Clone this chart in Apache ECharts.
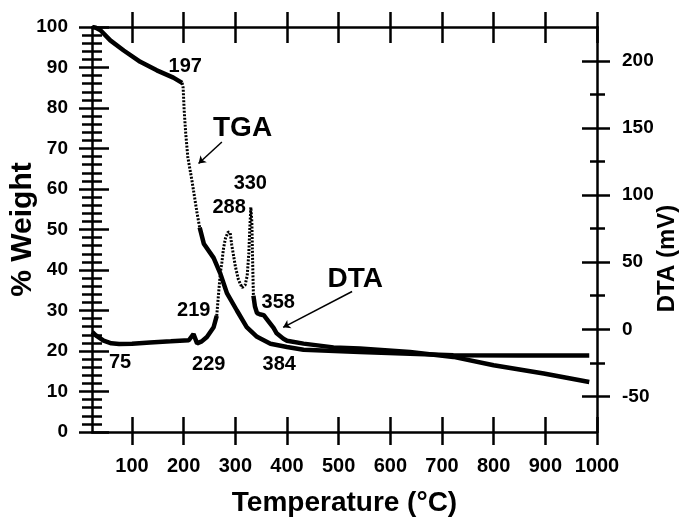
<!DOCTYPE html>
<html><head><meta charset="utf-8">
<script src="https://cdn.jsdelivr.net/npm/echarts@6/dist/echarts.min.js"></script>
<style>html,body{margin:0;padding:0;background:#fff}#c{width:684px;height:517px}</style>
</head><body><div id="c"></div>
<script>
// ---- data ----
const tgaTemp   = [23, 30, 39, 58, 84, 116, 148, 180, 197, 199, 201, 204, 208, 216, 219, 226, 231, 239, 258, 271, 284, 303, 322, 342, 368, 400, 432, 541, 638, 722, 850, 985];
const tgaWeight = [100, 99.8, 99.2, 96.7, 94.2, 91.4, 89.3, 87.5, 86.2, 85, 79.4, 73.7, 67.9, 62.1, 59.7, 54, 50.5, 46.5, 43, 39.1, 34.2, 30, 25.9, 23.5, 21.8, 21, 20.3, 19.75, 19.35, 18.95, 18.9, 18.9];
const dtaTemp = [23, 30, 45, 60, 75, 100, 135, 175, 210, 219, 226, 235, 245, 258, 264, 267, 271, 274, 277, 281, 286, 290, 293, 297, 300, 306, 313, 319, 323, 326, 328, 330, 332, 333, 334, 335, 338, 342, 349, 355, 362, 368, 374, 380, 393, 400, 432, 490, 541, 638, 722, 800, 897, 985];
const dtaMv   = [-2, -4.5, -8.5, -10.5, -11, -10.8, -9.8, -9, -8.2, -3.5, -10.5, -9, -5.7, 1.5, 10, 24, 42, 50, 60, 68, 72.5, 72, 63, 54, 47, 37, 31, 33, 40, 56, 75, 91, 80, 60, 42, 25, 17, 12, 11, 10.5, 7, 4, 1, -3, -7, -8.5, -10.7, -13.5, -14.4, -16.9, -20.6, -26.8, -33, -39.3];
// temperature ranges recorded as sparse marker chains
const tgaChainRange = [197, 231];
const dtaChainRange = [264, 335];
// tick labels
const tempTicks = [100, 200, 300, 400, 500, 600, 700, 800, 900, 1000];
const dtaTicks = [-50, 0, 50, 100, 150, 200];
const dtaMinorTicks = [-25, 25, 75, 125, 175];
// annotations (text, temperature, weight-axis value)
const annoText   = ['197', 'TGA', '330', '288', '219', '75', '229', '384', '358', 'DTA'];
const annoTemp   = [203, 314, 329, 288, 219.5, 77, 248.5, 385, 383, 532];
const annoWeight = [90.2, 75.0, 61.4, 55.4, 29.9, 17.1, 16.7, 16.6, 32.1, 37.7];
const arrowFrom = [[274, 71.6], [526, 34.7]];
const arrowTo   = [[228.8, 66.3], [392.6, 25.85]];

// ---- build ----
function split(xs, ys, range) {
  const thick = [], chain = [];
  xs.forEach((x, i) => {
    const p = [x, ys[i]];
    if (x > range[0] && x < range[1]) { thick.push([x, null]); chain.push(p); }
    else { thick.push(p); if (x === range[0] || x === range[1]) chain.push(p); }
  });
  return { thick, chain };
}
const tga = split(tgaTemp, tgaWeight, tgaChainRange);
const dta = split(dtaTemp, dtaMv, dtaChainRange);

const FONT = '"Liberation Sans", Arial, Helvetica, sans-serif';
const black = '#000';
const axLine = { show: true, onZero: false, lineStyle: { color: black, width: 2.5 } };
const noLine = { show: false, onZero: false };
const plain = (v) => String(v);
const lbl = (size, margin, extra) => Object.assign({ color: black, fontFamily: FONT, fontWeight: 'bold', fontSize: size, margin, formatter: plain }, extra || {});

const X_MIN = 22.6, X_MAX = 1000;
const R_MIN = -76.6, R_MAX = 225.4;

function xAx(pos, inside, len, showLine, showLabel, extra) {
  return Object.assign({
    type: 'value', position: pos, min: X_MIN, max: X_MAX,
    axisLine: showLine ? axLine : noLine,
    axisTick: { show: true, inside, length: len, customValues: tempTicks, lineStyle: { color: black, width: 2.5 } },
    axisLabel: showLabel ? lbl(20, 24, { customValues: tempTicks }) : { show: false },
    splitLine: { show: false }
  }, extra || {});
}
function yAx(pos, min, max, extra) {
  return Object.assign({
    type: 'value', position: pos, min, max,
    axisLine: noLine, axisLabel: { show: false }, splitLine: { show: false }
  }, extra);
}

const option = {
  animation: false,
  backgroundColor: '#fff',
  grid: { left: 92, right: 87, top: 27, bottom: 85, containLabel: false, outerBoundsMode: 'none' },
  xAxis: [
    xAx('bottom', false, 13, true, true, {
      name: 'Temperature (°C)', nameLocation: 'middle', nameGap: 57, nameMoveOverlap: false,
      nameTextStyle: { color: black, fontFamily: FONT, fontWeight: 'bold', fontSize: 28 }
    }),
    xAx('bottom', true, 15, false, false),
    xAx('top', false, 15, true, false),
    xAx('top', true, 16, false, false)
  ],
  yAxis: [
    yAx('left', 0, 100, {
      interval: 10,
      axisLine: axLine,
      axisTick: { show: true, inside: false, length: 13, lineStyle: { color: black, width: 2.5 } },
      minorTick: { show: true, splitNumber: 5, length: 10, lineStyle: { color: black, width: 2.5 } },
      axisLabel: lbl(19, 24),
      name: '% Weight', nameLocation: 'middle', nameGap: 54, nameMoveOverlap: false,
      nameTextStyle: { color: black, fontFamily: FONT, fontWeight: 'bold', fontSize: 30 }
    }),
    yAx('right', R_MIN, R_MAX, {
      axisLine: axLine,
      axisTick: { show: true, inside: false, length: 13, customValues: dtaTicks, lineStyle: { color: black, width: 2.5 } },
      axisLabel: lbl(19, 25, { customValues: dtaTicks }),
      name: 'DTA (mV)', nameLocation: 'middle', nameGap: 58, nameMoveOverlap: false,
      nameTextStyle: { color: black, fontFamily: FONT, fontWeight: 'bold', fontSize: 24, padding: [0, 58, 0, 0] }
    }),
    yAx('left', 0, 100, {
      interval: 10,
      axisTick: { show: true, inside: true, length: 17, lineStyle: { color: black, width: 2.5 } },
      minorTick: { show: true, splitNumber: 5, length: 10, lineStyle: { color: black, width: 2.5 } }
    }),
    yAx('right', R_MIN, R_MAX, {
      axisTick: { show: true, inside: true, length: 15, customValues: dtaTicks, lineStyle: { color: black, width: 2.5 } }
    }),
    yAx('right', R_MIN, R_MAX, {
      axisTick: { show: true, inside: false, length: 8, customValues: dtaMinorTicks, lineStyle: { color: black, width: 2.5 } }
    }),
    yAx('right', R_MIN, R_MAX, {
      axisTick: { show: true, inside: true, length: 7, customValues: dtaMinorTicks, lineStyle: { color: black, width: 2.5 } }
    })
  ],
  series: [
    {
      name: 'TGA', type: 'line', xAxisIndex: 0, yAxisIndex: 0, data: tga.thick,
      showSymbol: false, symbol: 'none', connectNulls: false,
      lineStyle: { color: black, width: 4.5 }, z: 5,
      markPoint: {
        symbol: 'rect', symbolSize: 1, silent: true,
        itemStyle: { color: 'rgba(0,0,0,0)' },
        data: annoText.map((t, i) => ({
          coord: [annoTemp[i], annoWeight[i]],
          label: {
            show: true, position: 'inside', formatter: t, color: black,
            fontFamily: FONT, fontWeight: 'bold', fontSize: (t === 'TGA' || t === 'DTA') ? 28 : 20
          }
        }))
      },
      markLine: {
        silent: true, symbol: ['none', 'arrow'], symbolSize: 7,
        label: { show: false },
        lineStyle: { color: black, width: 1.5, type: 'solid' },
        data: arrowFrom.map((f, i) => [{ coord: f }, { coord: arrowTo[i] }])
      }
    },
    {
      name: 'TGA chain', type: 'line', xAxisIndex: 0, yAxisIndex: 0, data: tga.chain,
      showSymbol: false, symbol: 'none',
      lineStyle: { color: black, width: 3, type: [2, 1.5] }, z: 4
    },
    {
      name: 'DTA', type: 'line', xAxisIndex: 0, yAxisIndex: 1, data: dta.thick,
      showSymbol: false, symbol: 'none', connectNulls: false,
      lineStyle: { color: black, width: 4.5 }, z: 5
    },
    {
      name: 'DTA chain', type: 'line', xAxisIndex: 0, yAxisIndex: 1, data: dta.chain,
      showSymbol: false, symbol: 'none',
      lineStyle: { color: black, width: 3, type: [2, 1.5] }, z: 4
    }
  ]
};
const chart = echarts.init(document.getElementById('c'), null, { renderer: 'canvas' });
chart.setOption(option);
</script></body></html>
